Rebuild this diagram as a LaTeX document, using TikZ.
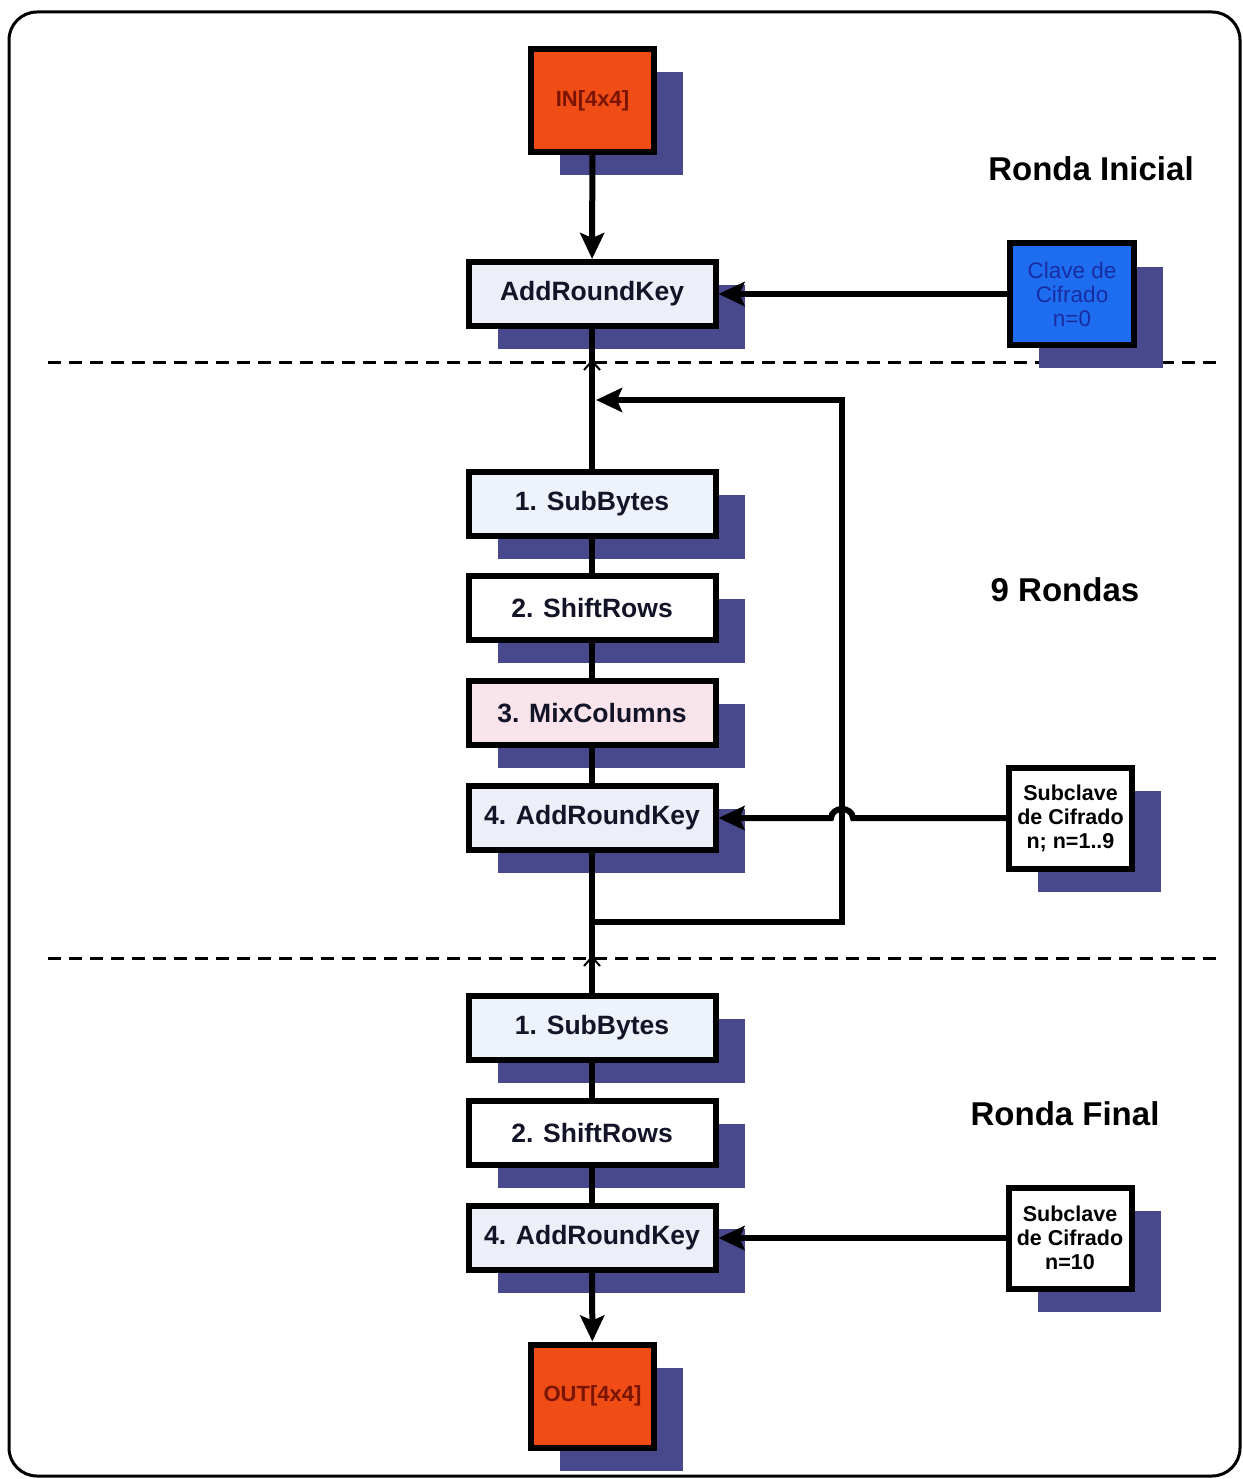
\documentclass[tikz,border=0pt]{standalone}
\usepackage{fontspec}
\setmainfont{Liberation Sans}
\usetikzlibrary{shadows,arrows.meta}
\definecolor{inred}{RGB}{240,76,22}
\definecolor{intext}{RGB}{120,20,0}
\definecolor{keyblue}{RGB}{30,108,240}
\definecolor{keytext}{RGB}{25,45,160}
\definecolor{shadowc}{RGB}{72,72,140}
\definecolor{lav}{RGB}{236,238,248}
\definecolor{sbfill}{RGB}{238,242,250}
\definecolor{mcfill}{RGB}{248,228,234}
\definecolor{steptext}{RGB}{20,20,40}
\begin{document}
\begin{tikzpicture}[x=1pt,y=-1pt,
  box/.style={draw=black, line width=6pt, inner sep=0pt,
    drop shadow={shadow xshift=29pt, shadow yshift=-23pt, fill=shadowc, opacity=1}},
  stepbox/.style={box, minimum width=247pt, minimum height=64pt,
    font=\fontsize{26.5}{30}\selectfont\bfseries, text=steptext},
  iobox/.style={box, fill=inred, minimum width=123pt, minimum height=103pt,
    font=\fontsize{22}{26}\selectfont\bfseries, text=intext},
  keybox/.style={box, fill=white, minimum width=123pt, minimum height=101pt,
    align=center, font=\fontsize{21.5}{24}\selectfont\bfseries, text=black},
  conn/.style={line width=6pt},
  arr/.style={conn, -{Stealth[length=26pt,width=24pt,inset=5pt]}},
  sep/.style={dash pattern=on 13pt off 8pt, line width=3pt},
  ttl/.style={font=\fontsize{33}{38}\selectfont\bfseries}
]
\useasboundingbox (0,0) rectangle (1242,1479);
\fill[white] (0,0) rectangle (1242,1479);
\draw[line width=3pt, rounded corners=28pt] (9,12) rectangle (1240,1476);

% separators
\draw[sep] (48,362) -- (1218,362);
\draw[sep] (48,958) -- (1218,958);

% titles
\node[ttl] (t1) at (1091,169) {Ronda Inicial};
\node[ttl] (t2) at (1065,590) {9 Rondas};
\node[ttl] (t3) at (1065,1114) {Ronda Final};

% boxes
\node[iobox] (in) at (592.5,100.5) {IN[4x4]};
\node[stepbox, fill=lav] (ark0) at (592,294) {AddRoundKey};
\node[box, fill=keyblue, minimum width=124pt, minimum height=101pt, align=center,
  font=\fontsize{22.5}{24}\selectfont, text=keytext] (clave) at (1072,294) {Clave de\\Cifrado\\n=0};

\node[stepbox, fill=sbfill] (sb1) at (592,504) {1. SubBytes};
\node[stepbox, fill=white] (sr1) at (592,608) {2. ShiftRows};
\node[stepbox, fill=mcfill] (mc) at (592,713) {3. MixColumns};
\node[stepbox, fill=lav] (ark4) at (592,818) {4. AddRoundKey};
\node[keybox] (sk1) at (1070.5,818) {Subclave\\de Cifrado\\n; n=1..9};

\node[stepbox, fill=sbfill] (sb2) at (592,1028) {1. SubBytes};
\node[stepbox, fill=white] (sr2) at (592,1133) {2. ShiftRows};
\node[stepbox, fill=lav] (arkf) at (592,1238) {4. AddRoundKey};
\node[keybox] (sk2) at (1070,1238) {Subclave\\de Cifrado\\n=10};

\node[iobox] (out) at (592.5,1396) {OUT[4x4]};

% connectors
\draw[arr] (in) -- (ark0);
\draw[arr] (clave) -- (ark0);
\draw[conn] (ark0) -- (sb1);
\draw[conn] (sb1) -- (sr1);
\draw[conn] (sr1) -- (mc);
\draw[conn] (mc) -- (ark4);
\draw[conn] (ark4) -- (sb2);
\draw[conn] (sb2) -- (sr2);
\draw[conn] (sr2) -- (arkf);
\draw[arr] (arkf) -- (out);

% loop back
\coordinate (j1) at (592,922);
\coordinate (j2) at (842,922);
\coordinate (j3) at (842,400);
\coordinate (j4) at (596,400);
\draw[arr] (j1) -- (j2) -- (j3) -- (j4);

% subkey with hop over loop line
\coordinate (h1) at (853,818);
\coordinate (h2) at (831,818);
\draw[arr] (sk1) -- (h1) .. controls (852,806) and (832,806) .. (h2) -- (ark4);
\draw[arr] (sk2) -- (arkf);

% small carets where the main line crosses the separators
\draw[line width=2pt] (584,370) -- (592,361) -- (600,370);
\draw[line width=2pt] (584,966) -- (592,957) -- (600,966);
\end{tikzpicture}
\end{document}
